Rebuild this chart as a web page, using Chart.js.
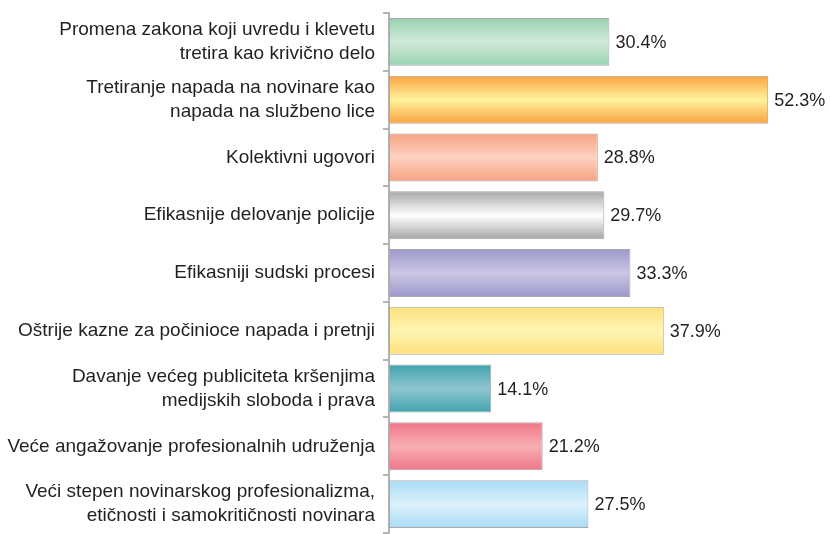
<!DOCTYPE html>
<html><head><meta charset="utf-8">
<script src="https://cdn.jsdelivr.net/npm/chart.js@4"></script>
<style>html,body{margin:0;padding:0;background:#fff}#wrap{width:830px;height:534px}</style>
</head><body><div id="wrap"><canvas id="c" width="830" height="534"></canvas></div>
<script>
const categories = [
  ["Promena zakona koji uvredu i klevetu","tretira kao krivično delo"],
  ["Tretiranje napada na novinare kao","napada na službeno lice"],
  "Kolektivni ugovori",
  "Efikasnije delovanje policije",
  "Efikasniji sudski procesi",
  "Oštrije kazne za počinioce napada i pretnji",
  ["Davanje većeg publiciteta kršenjima","medijskih sloboda i prava"],
  "Veće angažovanje profesionalnih udruženja",
  ["Veći stepen novinarskog profesionalizma,","etičnosti i samokritičnosti novinara"]
];
const values = [30.4, 52.3, 28.8, 29.7, 33.3, 37.9, 14.1, 21.2, 27.5];
const edgeColors = ["#98d2ad","#f9a242","#f7a283","#a6a6a6","#9d98cb","#fde07c","#40a2ae","#ef7688","#a9dbf5"];
const midColors  = ["#d0eadb","#fff29c","#fdd2c0","#ffffff","#cac7e4","#fff5b2","#8ec6d0","#f8aeb3","#dcf1fb"];

function grad(ctx) {
  const chart = ctx.chart;
  const i = ctx.dataIndex;
  if (!chart.chartArea || i === undefined) return edgeColors[i] || '#ccc';
  const meta = chart.getDatasetMeta(0);
  const el = meta.data[i];
  const yScale = chart.scales.y;
  const cy = yScale.getPixelForValue(i);
  const h = el && el.height ? el.height : 48;
  const g = chart.ctx.createLinearGradient(0, cy - h/2, 0, cy + h/2);
  g.addColorStop(0, edgeColors[i]);
  g.addColorStop(0.5, midColors[i]);
  g.addColorStop(1, edgeColors[i]);
  return g;
}

const valueLabels = {
  id: 'valueLabels',
  afterDatasetsDraw(chart) {
    const c = chart.ctx;
    const meta = chart.getDatasetMeta(0);
    c.save();
    c.font = '18px "Liberation Sans", Arial, sans-serif';
    c.fillStyle = '#231f20';
    c.textBaseline = 'middle';
    c.textAlign = 'left';
    meta.data.forEach((el, i) => {
      c.fillText(values[i].toFixed(1) + '%', el.x + 6, el.y + 1);
    });
    c.restore();
  }
};

new Chart(document.getElementById('c'), {
  type: 'bar',
  data: {
    labels: categories,
    datasets: [{
      data: values,
      backgroundColor: grad,
      borderColor: '#a9a9a9',
      borderWidth: 1,
      borderSkipped: false,
      barPercentage: 0.83,
      categoryPercentage: 1
    }]
  },
  options: {
    indexAxis: 'y',
    responsive: false,
    animation: false,
    layout: { padding: { top: 13, bottom: 1, right: 6, left: 0 } },
    plugins: { legend: { display: false }, tooltip: { enabled: false } },
    scales: {
      x: { display: false, min: 0, max: 60 },
      y: {
        afterFit(s) { s.width = 389; s.paddingTop = 0; s.paddingBottom = 0; },
        border: { display: true, color: '#b3b3b3', width: 2 },
        grid: { drawOnChartArea: false, drawTicks: true, tickLength: 6, color: '#b3b3b3', lineWidth: 2, offset: true },
        ticks: {
          color: '#231f20',
          padding: 8,
          font: { family: '"Liberation Sans", Arial, sans-serif', size: 19, lineHeight: 1.26 }
        }
      }
    }
  },
  plugins: [valueLabels]
});
</script></body></html>
